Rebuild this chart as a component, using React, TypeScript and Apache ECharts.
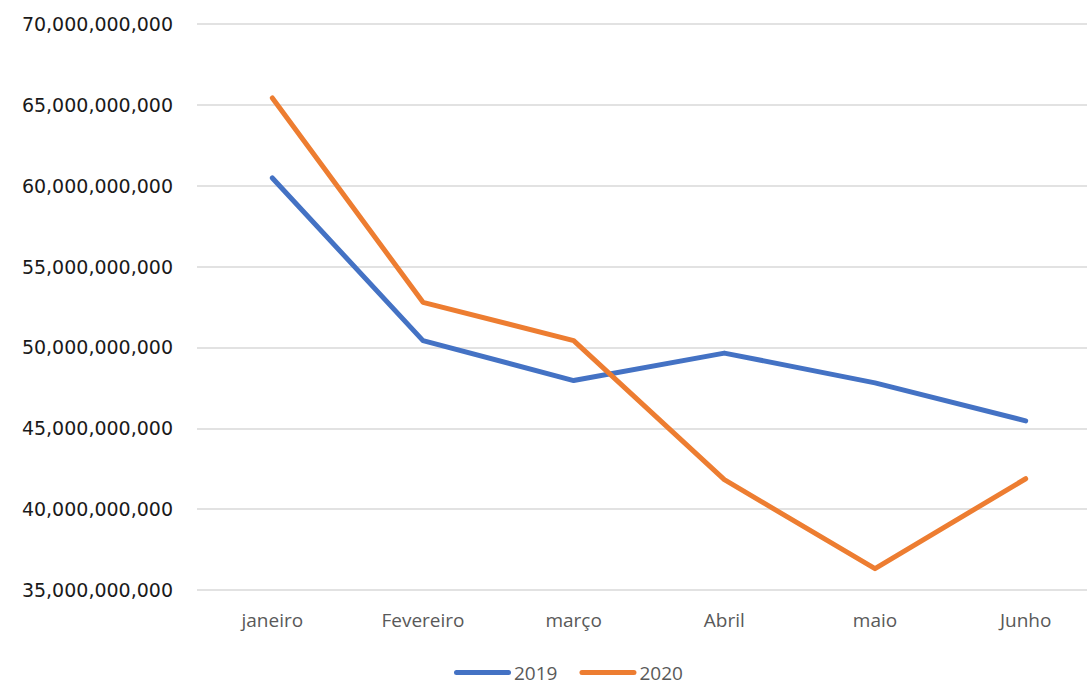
import React, { useEffect, useRef } from "react";
import * as echarts from "echarts";

const categories = ["janeiro", "Fevereiro", "março", "Abril", "maio", "Junho"];
const series2019 = [60480000000, 50420000000, 47950000000, 49650000000, 47810000000, 45460000000];
const series2020 = [65430000000, 52790000000, 50420000000, 41820000000, 36320000000, 41880000000];
const yMin = 35000000000;
const yMax = 70000000000;
const yInterval = 5000000000;

const legendIcon = "path://M2.5,0 L54.5,0 A2.5,2.5 0 0 1 54.5,5 L2.5,5 A2.5,2.5 0 0 1 2.5,0 Z";

export default function App() {
  const ref = useRef<HTMLDivElement>(null);
  useEffect(() => {
    document.body.style.margin = "0";
    document.body.style.overflow = "hidden";
    const chart = echarts.init(ref.current!, null, { renderer: "svg" });
    chart.setOption({
      animation: false,
      backgroundColor: "#ffffff",
      grid: { left: 197, right: 0, top: 24, bottom: 95, containLabel: false },
      legend: {
        left: 449,
        top: 658,
        icon: legendIcon,
        itemWidth: 57,
        itemHeight: 5,
        itemGap: 22,
        textStyle: { fontFamily: "Open Sans", fontSize: 19, color: "#595959", padding: [0, 0, 0, -2] },
        data: ["2019", "2020"],
      },
      xAxis: {
        type: "category",
        data: categories,
        boundaryGap: true,
        axisLine: { show: false },
        axisTick: { show: false },
        axisLabel: { fontFamily: "Open Sans", fontSize: 19, color: "#595959", margin: 20 },
      },
      yAxis: {
        type: "value",
        min: yMin,
        max: yMax,
        interval: yInterval,
        axisLine: { show: false },
        axisTick: { show: false },
        splitLine: { lineStyle: { color: "#d9d9d9", width: 1.5 } },
        axisLabel: {
          fontFamily: "DejaVu Sans",
          fontSize: 19,
          color: "#1a1a1a",
          margin: 24,
          formatter: (v: number) => v.toLocaleString("en-US"),
        },
      },
      series: [
        {
          name: "2019",
          type: "line",
          data: series2019,
          showSymbol: false,
          symbol: "none",
          lineStyle: { color: "#4472C4", width: 5, cap: "round", join: "round" },
          itemStyle: { color: "#4472C4" },
        },
        {
          name: "2020",
          type: "line",
          data: series2020,
          showSymbol: false,
          symbol: "none",
          lineStyle: { color: "#ED7D31", width: 5, cap: "round", join: "round" },
          itemStyle: { color: "#ED7D31" },
        },
      ],
    });
    return () => chart.dispose();
  }, []);
  return <div ref={ref} style={{ width: 1101, height: 685 }} />;
}
